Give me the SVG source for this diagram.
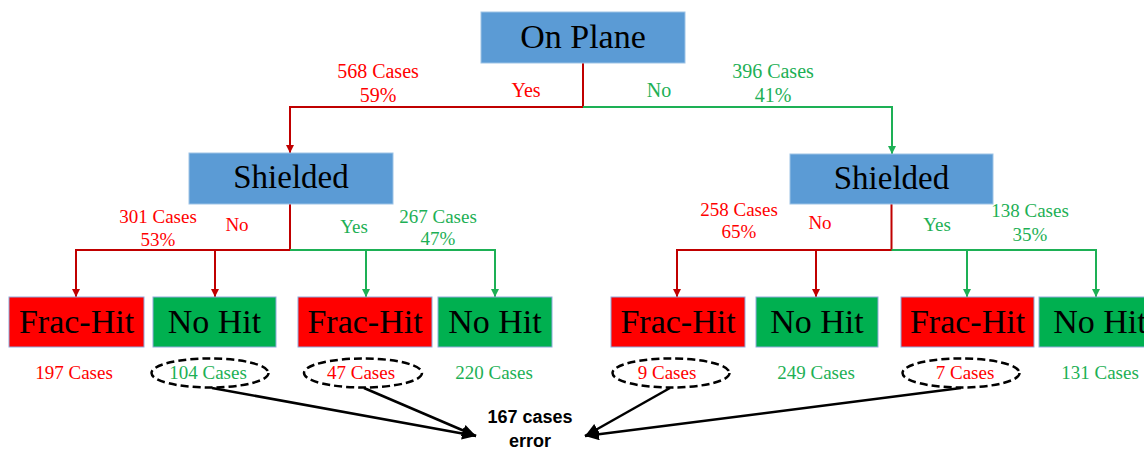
<svg xmlns="http://www.w3.org/2000/svg" width="1144" height="450" viewBox="0 0 1144 450">
<style>
  .t { font-family: "Liberation Serif", "Times New Roman", serif; text-anchor: middle; }
  .box { font-size: 34px; fill: #000; }
  .r { fill: #FF0000; }
  .g { fill: #1DB055; }
  .lbl { font-size: 20px; }
  .lbl2 { font-size: 19px; }
  .blue { fill: #5B9BD5; stroke: #9DC3E6; stroke-width: 1; }
  .red { fill: #FF0000; stroke: #8FAADC; stroke-width: 1; }
  .green { fill: #00B050; stroke: #8FAADC; stroke-width: 1; }
  .lr { fill: none; stroke: #C00000; stroke-width: 2; }
  .lg { fill: none; stroke: #1DB055; stroke-width: 2; }
  .ell { fill: none; stroke: #000; stroke-width: 2.5; stroke-dasharray: 8 4; }
  .blk { fill: none; stroke: #000; stroke-width: 2.5; }
  .err { font-family: "Liberation Sans", Arial, sans-serif; font-weight: bold; font-size: 18px; text-anchor: middle; fill: #000; }
</style>
<defs>
  <marker id="ar" markerUnits="userSpaceOnUse" markerWidth="10" markerHeight="10" refX="8" refY="4" orient="auto">
    <path d="M0,0 L8,4 L0,8 z" fill="#C00000"/>
  </marker>
  <marker id="ag" markerUnits="userSpaceOnUse" markerWidth="10" markerHeight="10" refX="8" refY="4" orient="auto">
    <path d="M0,0 L8,4 L0,8 z" fill="#1DB055"/>
  </marker>
  <marker id="ak" markerUnits="userSpaceOnUse" markerWidth="16" markerHeight="14" refX="14" refY="6" orient="auto">
    <path d="M0,0 L14,6 L0,12 z" fill="#000"/>
  </marker>
</defs>

<g id="connectors">
  <path class="lr" d="M583,63 V107 H290 V153" marker-end="url(#ar)"/>
  <path class="lg" d="M583,107 H892 V154" marker-end="url(#ag)"/>
  <path class="lr" d="M290,204 V250 H76 V297" marker-end="url(#ar)"/>
  <path class="lr" d="M215,250 V297" marker-end="url(#ar)"/>
  <path class="lg" d="M290,250 H495 V297" marker-end="url(#ag)"/>
  <path class="lg" d="M366,250 V297" marker-end="url(#ag)"/>
  <path class="lr" d="M891.5,204 V250 H677 V297" marker-end="url(#ar)"/>
  <path class="lr" d="M816,250 V297" marker-end="url(#ar)"/>
  <path class="lg" d="M891.5,250 H1096 V297" marker-end="url(#ag)"/>
  <path class="lg" d="M967,250 V297" marker-end="url(#ag)"/>
  <line class="blk" x1="212" y1="388" x2="476" y2="436" marker-end="url(#ak)"/>
  <line class="blk" x1="364" y1="388" x2="476" y2="436" marker-end="url(#ak)"/>
  <line class="blk" x1="670" y1="388" x2="585" y2="436" marker-end="url(#ak)"/>
  <line class="blk" x1="961" y1="388" x2="585" y2="436" marker-end="url(#ak)"/>
</g>

<g id="labels">
  <text class="t lbl r" x="378" y="78">568 Cases</text>
  <text class="t lbl r" x="378" y="102">59%</text>
  <text class="t lbl r" x="526" y="97">Yes</text>
  <text class="t lbl g" x="659" y="97">No</text>
  <text class="t lbl g" x="773" y="78">396 Cases</text>
  <text class="t lbl g" x="773" y="102">41%</text>

  <text class="t lbl2 r" x="158" y="223">301 Cases</text>
  <text class="t lbl2 r" x="158" y="246">53%</text>
  <text class="t lbl2 r" x="237" y="231">No</text>
  <text class="t lbl2 g" x="354" y="233">Yes</text>
  <text class="t lbl2 g" x="438" y="223">267 Cases</text>
  <text class="t lbl2 g" x="438" y="245">47%</text>

  <text class="t lbl2 r" x="739" y="216">258 Cases</text>
  <text class="t lbl2 r" x="739" y="238">65%</text>
  <text class="t lbl2 r" x="820" y="229">No</text>
  <text class="t lbl2 g" x="937" y="231">Yes</text>
  <text class="t lbl2 g" x="1030" y="217">138 Cases</text>
  <text class="t lbl2 g" x="1030" y="241">35%</text>
</g>

<g id="on-plane">
  <rect class="blue" x="481" y="12" width="204" height="51"/>
  <text class="t box" x="583" y="48">On Plane</text>
</g>
<g id="shielded-left">
  <rect class="blue" x="189" y="153" width="204" height="51"/>
  <text class="t box" x="291" y="188" style="font-size:33px">Shielded</text>
</g>
<g id="shielded-right">
  <rect class="blue" x="790" y="154" width="203" height="50"/>
  <text class="t box" x="891.5" y="189" style="font-size:33px">Shielded</text>
</g>

<g id="leaf-1">
  <rect class="red" x="9" y="297" width="135" height="50"/>
  <text class="t box" x="76.5" y="333">Frac-Hit</text>
  <text class="t lbl2 r" x="74" y="379">197 Cases</text>
</g>
<g id="leaf-2">
  <rect class="green" x="153" y="297" width="123" height="50"/>
  <text class="t box" x="214.5" y="333">No Hit</text>
  <ellipse class="ell" cx="210" cy="373" rx="58.5" ry="14.5"/>
  <text class="t lbl2 g" x="208" y="379">104 Cases</text>
</g>
<g id="leaf-3">
  <rect class="red" x="298" y="297" width="134" height="50"/>
  <text class="t box" x="365" y="333">Frac-Hit</text>
  <ellipse class="ell" cx="363" cy="373" rx="59" ry="14.5"/>
  <text class="t lbl2 r" x="361" y="379">47 Cases</text>
</g>
<g id="leaf-4">
  <rect class="green" x="438" y="297" width="114" height="50"/>
  <text class="t box" x="495" y="333">No Hit</text>
  <text class="t lbl2 g" x="494" y="379">220 Cases</text>
</g>
<g id="leaf-5">
  <rect class="red" x="611" y="297" width="134" height="50"/>
  <text class="t box" x="678" y="333">Frac-Hit</text>
  <ellipse class="ell" cx="671" cy="373" rx="58.5" ry="14.5"/>
  <text class="t lbl2 r" x="667" y="379">9 Cases</text>
</g>
<g id="leaf-6">
  <rect class="green" x="756" y="297" width="122" height="50"/>
  <text class="t box" x="817" y="333">No Hit</text>
  <text class="t lbl2 g" x="816" y="379">249 Cases</text>
</g>
<g id="leaf-7">
  <rect class="red" x="901" y="297" width="133" height="50"/>
  <text class="t box" x="967.5" y="333">Frac-Hit</text>
  <ellipse class="ell" cx="961" cy="373" rx="58.5" ry="14.5"/>
  <text class="t lbl2 r" x="965" y="379">7 Cases</text>
</g>
<g id="leaf-8">
  <rect class="green" x="1039" y="297" width="123" height="50"/>
  <text class="t box" x="1100" y="333">No Hit</text>
  <text class="t lbl2 g" x="1100" y="379">131 Cases</text>
</g>

<g id="error">
  <text class="err" x="530" y="423">167 cases</text>
  <text class="err" x="530" y="447">error</text>
</g>
</svg>
